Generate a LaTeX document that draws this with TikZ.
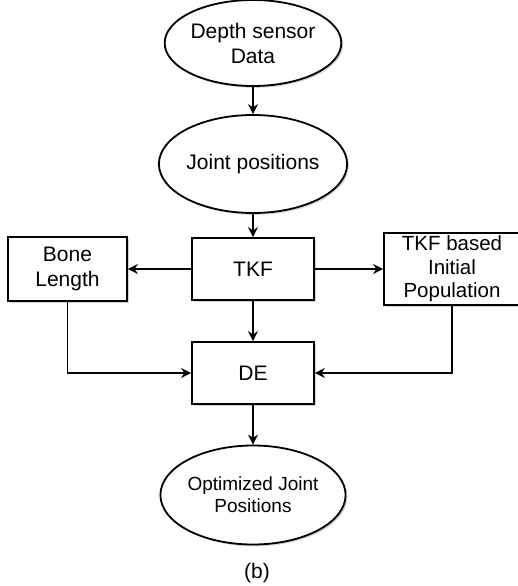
\documentclass[tikz,border=0pt]{standalone}
\usepackage{fontspec}
\setmainfont{Liberation Sans}
\usetikzlibrary{shapes.geometric}
\usetikzlibrary{arrows.meta}
\usetikzlibrary{shadows}
\tikzstyle{every node}=[align=center,font=\fontsize{21}{25}\selectfont]
\tikzstyle{boxed}=[draw=black,line width=1.8pt,fill=white,inner sep=0pt,
  drop shadow={shadow xshift=1.8pt,shadow yshift=-1.8pt,opacity=0.35}]
\tikzstyle{oval}=[boxed,ellipse,minimum width=170pt,minimum height=98pt]
\tikzstyle{block}=[boxed,rectangle,minimum width=122pt,minimum height=62pt]
\tikzstyle{flow}=[-{Stealth[length=10pt,width=10pt]},line width=1.8pt]
\begin{document}
\begin{tikzpicture}[x=1pt,y=1pt]
  \useasboundingbox (0,0) rectangle (518,-586);
  \node [oval,minimum height=86pt] (data) at (253,-43) {Depth sensor\\Data};
  \node [oval] (joint) at (253,-164) {Joint positions};
  \node [block] (tkf) at (253,-269) {TKF};
  \node [block,minimum width=119pt,minimum height=64pt] (bone) at (67.5,-269) {Bone\\Length};
  \node [block,minimum width=136pt,minimum height=72pt,font=\fontsize{20.5}{23.5}\selectfont] (init) at (452,-269) {TKF based\\Initial\\Population};
  \node [block] (de) at (253,-373) {DE};
  \node [oval,minimum height=99pt,font=\fontsize{19}{22}\selectfont] (opt) at (253,-495) {Optimized Joint\\Positions};
  \node (cap) at (257,-573) {(b)};

  \draw [flow] (data) -- (joint);
  \draw [flow] (joint) -- (tkf);
  \draw [flow] (tkf) -- (bone);
  \draw [flow] (tkf) -- (init);
  \draw [flow] (tkf) -- (de);
  \draw [flow] (bone) |- (de);
  \draw [flow] (init) |- (de);
  \draw [flow] (de) -- (opt);
\end{tikzpicture}
\end{document}
